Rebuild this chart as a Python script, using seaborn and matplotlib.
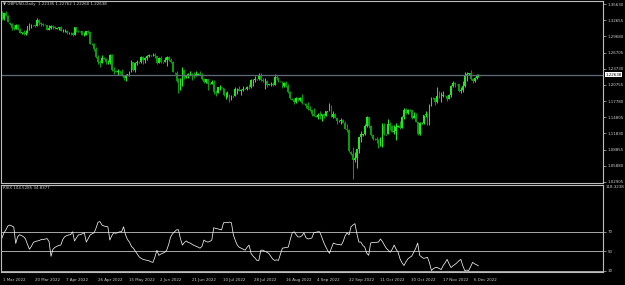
import matplotlib
matplotlib.use("Agg")
import matplotlib.pyplot as plt
import matplotlib.transforms as mtrans
import numpy as np
import pandas as pd
import seaborn as sns

# ---------------- data ----------------
symbol_title = "GBPUSD,Daily  1.22335 1.22762 1.22260 1.22638"
indicator_title = "RSIX 104.5285 34.8377"
first_bar_date = "2022-03-01"
last_bar_date = "2022-12-09"

opens = [
    1.3420, 1.3285, 1.3392, 1.3350,
    1.3210, 1.3200, 1.3115, 1.3112, 1.3185, 1.3093,
    1.3030, 1.3040, 1.3018, 1.3038, 1.3150, 1.3172,
    1.3175, 1.3172, 1.3165, 1.3273, 1.3205, 1.3187,
    1.3180, 1.3175, 1.3090, 1.3113, 1.3155, 1.3138,
    1.3110, 1.3115, 1.3135, 1.3069, 1.3071, 1.3074,
    1.3025, 1.3030, 1.3024, 1.3001, 1.3135, 1.3068,
    1.3060, 1.3058, 1.3000, 1.3001, 1.3067, 1.3044,
    1.2830, 1.2820, 1.2730, 1.2585, 1.2496, 1.2484,
    1.2570, 1.2555, 1.2488, 1.2495, 1.2625, 1.2351,
    1.2330, 1.2320, 1.2332, 1.2318, 1.2242, 1.2198,
    1.2260, 1.2268, 1.2317, 1.2491, 1.2344, 1.2474,
    1.2490, 1.2495, 1.2588, 1.2531, 1.2571, 1.2603,
    1.2620, 1.2625, 1.2629, 1.2599, 1.2487, 1.2575,
    1.2490, 1.2498, 1.2530, 1.2587, 1.2534, 1.2494,
    1.2300, 1.2295, 1.2156, 1.1998, 1.2178, 1.2349,
    1.2215, 1.2230, 1.2267, 1.2276, 1.2265, 1.2262,
    1.2265, 1.2275, 1.2262, 1.2185, 1.2125, 1.2176,
    1.2095, 1.2100, 1.2125, 1.1950, 1.1922, 1.2029,
    1.2030, 1.2020, 1.1890, 1.1891, 1.1895, 1.1826,
    1.1865, 1.1875, 1.1993, 1.1993, 1.1962, 1.1985,
    1.2005, 1.2008, 1.2036, 1.2033, 1.2163, 1.2172,
    1.2175, 1.2185, 1.2245, 1.2164, 1.2143, 1.2153,
    1.2075, 1.2085, 1.2100, 1.2075, 1.2215, 1.2197,
    1.2130, 1.2128, 1.2053, 1.2101, 1.2058, 1.1940,
    1.1820, 1.1805, 1.1765, 1.1830, 1.1802, 1.1833,
    1.1730, 1.1725, 1.1687, 1.1629, 1.1618, 1.1543,
    1.1505, 1.1490, 1.1515, 1.1508, 1.1534, 1.1509,
    1.1580, 1.1595, 1.1686, 1.1488, 1.1546, 1.1466,
    1.1410, 1.1415, 1.1435, 1.1383, 1.1269, 1.1253,
    1.0850, 1.0800, 1.0687, 1.0733, 1.0890, 1.1118,
    1.1160, 1.1165, 1.1324, 1.1476, 1.1323, 1.1153,
    1.1080, 1.1075, 1.1054, 1.0974, 1.1095, 1.1325,
    1.1165, 1.1175, 1.1359, 1.1318, 1.1215, 1.1222,
    1.1310, 1.1320, 1.1288, 1.1476, 1.1617, 1.1565,
    1.1615, 1.1610, 1.1465, 1.1511, 1.1395, 1.1164,
    1.1370, 1.1375, 1.1513, 1.1545, 1.1348, 1.1708,
    1.1840, 1.1835, 1.1764, 1.1863, 1.1862, 1.1868,
    1.1880, 1.1878, 1.1822, 1.1887, 1.2059, 1.2114,
    1.2090, 1.2085, 1.1962, 1.1990, 1.2055, 1.2255,
    1.2270, 1.2285, 1.2184, 1.2155, 1.2208, 1.22335,
]
highs = [
    1.3438, 1.3400, 1.3438, 1.3356,
    1.3225, 1.3220, 1.3180, 1.3200, 1.3190, 1.3130,
    1.3045, 1.3090, 1.3077, 1.3160, 1.3210, 1.3188,
    1.3185, 1.3186, 1.3298, 1.3285, 1.3228, 1.3220,
    1.3190, 1.3180, 1.3170, 1.3175, 1.3180, 1.3166,
    1.3120, 1.3145, 1.3160, 1.3105, 1.3110, 1.3080,
    1.3040, 1.3055, 1.3054, 1.3148, 1.3148, 1.3090,
    1.3070, 1.3060, 1.3055, 1.3070, 1.3090, 1.3055,
    1.2845, 1.2840, 1.2780, 1.2620, 1.2534, 1.2620,
    1.2580, 1.2577, 1.2542, 1.2638, 1.2638, 1.2400,
    1.2345, 1.2360, 1.2340, 1.2375, 1.2260, 1.2280,
    1.2275, 1.2325, 1.2525, 1.2500, 1.2500, 1.2525,
    1.2500, 1.2600, 1.2600, 1.2590, 1.2618, 1.2640,
    1.2630, 1.2665, 1.2666, 1.2615, 1.2590, 1.2600,
    1.2505, 1.2595, 1.2600, 1.2599, 1.2570, 1.2510,
    1.2315, 1.2330, 1.2195, 1.2208, 1.2406, 1.2350,
    1.2240, 1.2290, 1.2325, 1.2300, 1.2318, 1.2325,
    1.2285, 1.2330, 1.2290, 1.2205, 1.2180, 1.2180,
    1.2110, 1.2165, 1.2163, 1.1975, 1.2035, 1.2075,
    1.2040, 1.2025, 1.1936, 1.1967, 1.1905, 1.1885,
    1.1880, 1.2030, 1.2017, 1.2050, 1.2005, 1.2064,
    1.2015, 1.2063, 1.2090, 1.2185, 1.2190, 1.2245,
    1.2190, 1.2293, 1.2285, 1.2210, 1.2205, 1.2160,
    1.2090, 1.2130, 1.2125, 1.2276, 1.2250, 1.2205,
    1.2140, 1.2140, 1.2130, 1.2145, 1.2090, 1.1960,
    1.1830, 1.1840, 1.1850, 1.1845, 1.1850, 1.1900,
    1.1745, 1.1740, 1.1760, 1.1690, 1.1620, 1.1647,
    1.1515, 1.1555, 1.1590, 1.1540, 1.1560, 1.1600,
    1.1600, 1.1738, 1.1700, 1.1590, 1.1565, 1.1475,
    1.1425, 1.1460, 1.1450, 1.1405, 1.1360, 1.1270,
    1.0860, 1.0935, 1.0840, 1.0900, 1.1120, 1.1235,
    1.1175, 1.1355, 1.1495, 1.1480, 1.1340, 1.1170,
    1.1095, 1.1110, 1.1075, 1.1125, 1.1380, 1.1380,
    1.1180, 1.1440, 1.1395, 1.1335, 1.1335, 1.1375,
    1.1330, 1.1410, 1.1495, 1.1645, 1.1643, 1.1630,
    1.1625, 1.1615, 1.1570, 1.1565, 1.1400, 1.1395,
    1.1385, 1.1530, 1.1590, 1.1560, 1.1730, 1.1855,
    1.1850, 1.1840, 1.2030, 1.1955, 1.1940, 1.1955,
    1.1895, 1.1890, 1.1900, 1.2080, 1.2154, 1.2125,
    1.2100, 1.2095, 1.2030, 1.2155, 1.2310, 1.2310,
    1.2290, 1.2345, 1.2210, 1.2220, 1.2275, 1.22762,
]
lows = [
    1.3273, 1.3270, 1.3335, 1.3223,
    1.3185, 1.3084, 1.3090, 1.3100, 1.3080, 1.3026,
    1.3020, 1.3001, 1.3000, 1.3030, 1.3090, 1.3115,
    1.3165, 1.3140, 1.3160, 1.3177, 1.3160, 1.3150,
    1.3168, 1.3084, 1.3080, 1.3100, 1.3111, 1.3100,
    1.3100, 1.3090, 1.3060, 1.3050, 1.3050, 1.3012,
    1.3015, 1.2990, 1.2975, 1.2990, 1.3052, 1.3050,
    1.3050, 1.2995, 1.2975, 1.2990, 1.3030, 1.2823,
    1.2810, 1.2704, 1.2571, 1.2468, 1.2411, 1.2470,
    1.2545, 1.2458, 1.2460, 1.2465, 1.2325, 1.2276,
    1.2310, 1.2260, 1.2280, 1.2235, 1.2165, 1.2155,
    1.2250, 1.2230, 1.2310, 1.2332, 1.2315, 1.2440,
    1.2480, 1.2480, 1.2465, 1.2480, 1.2530, 1.2580,
    1.2610, 1.2610, 1.2570, 1.2460, 1.2480, 1.2472,
    1.2480, 1.2495, 1.2425, 1.2510, 1.2482, 1.2305,
    1.2280, 1.2120, 1.1934, 1.1990, 1.2046, 1.2180,
    1.2205, 1.2200, 1.2250, 1.2160, 1.2200, 1.2230,
    1.2258, 1.2250, 1.2170, 1.2105, 1.2110, 1.1975,
    1.2085, 1.2085, 1.1900, 1.1875, 1.1920, 1.1990,
    1.2015, 1.1874, 1.1807, 1.1845, 1.1760, 1.1800,
    1.1858, 1.1870, 1.1915, 1.1960, 1.1890, 1.1970,
    1.1995, 1.1990, 1.2000, 1.2010, 1.2064, 1.2130,
    1.2168, 1.2170, 1.2150, 1.2130, 1.2005, 1.2030,
    1.2068, 1.2060, 1.2050, 1.2070, 1.2170, 1.2120,
    1.2120, 1.2010, 1.2030, 1.2035, 1.1930, 1.1810,
    1.1795, 1.1717, 1.1750, 1.1780, 1.1780, 1.1720,
    1.1715, 1.1650, 1.1620, 1.1600, 1.1500, 1.1500,
    1.1480, 1.1444, 1.1440, 1.1405, 1.1460, 1.1500,
    1.1575, 1.1590, 1.1480, 1.1475, 1.1460, 1.1351,
    1.1400, 1.1357, 1.1370, 1.1260, 1.1210, 1.0840,
    1.0780, 1.0350, 1.0660, 1.0540, 1.0830, 1.1025,
    1.1140, 1.1145, 1.1305, 1.1275, 1.1140, 1.1055,
    1.1070, 1.1000, 1.0924, 1.0955, 1.0925, 1.1150,
    1.1160, 1.1170, 1.1255, 1.1200, 1.1170, 1.1060,
    1.1300, 1.1258, 1.1275, 1.1445, 1.1540, 1.1535,
    1.1600, 1.1455, 1.1460, 1.1385, 1.1145, 1.1150,
    1.1360, 1.1350, 1.1480, 1.1340, 1.1335, 1.1690,
    1.1825, 1.1710, 1.1750, 1.1830, 1.1765, 1.1850,
    1.1870, 1.1780, 1.1810, 1.1850, 1.2035, 1.2030,
    1.2075, 1.1945, 1.1930, 1.1940, 1.2030, 1.2150,
    1.2260, 1.2160, 1.2110, 1.2120, 1.2180, 1.22260,
]
closes = [
    1.3285, 1.3392, 1.3350, 1.3230,
    1.3200, 1.3115, 1.3112, 1.3185, 1.3093, 1.3037,
    1.3040, 1.3018, 1.3038, 1.3150, 1.3172, 1.3180,
    1.3172, 1.3165, 1.3273, 1.3205, 1.3187, 1.3184,
    1.3175, 1.3090, 1.3113, 1.3155, 1.3138, 1.3113,
    1.3115, 1.3135, 1.3069, 1.3071, 1.3074, 1.3034,
    1.3030, 1.3024, 1.3001, 1.3135, 1.3068, 1.3062,
    1.3058, 1.3000, 1.3001, 1.3067, 1.3044, 1.2835,
    1.2820, 1.2730, 1.2585, 1.2496, 1.2484, 1.2573,
    1.2555, 1.2488, 1.2495, 1.2625, 1.2351, 1.2336,
    1.2320, 1.2332, 1.2318, 1.2242, 1.2198, 1.2263,
    1.2268, 1.2317, 1.2491, 1.2344, 1.2474, 1.2489,
    1.2495, 1.2588, 1.2531, 1.2571, 1.2603, 1.2622,
    1.2625, 1.2629, 1.2599, 1.2487, 1.2575, 1.2488,
    1.2498, 1.2530, 1.2587, 1.2534, 1.2494, 1.2314,
    1.2295, 1.2156, 1.1998, 1.2178, 1.2349, 1.2221,
    1.2230, 1.2267, 1.2276, 1.2265, 1.2262, 1.2267,
    1.2275, 1.2262, 1.2185, 1.2125, 1.2176, 1.2097,
    1.2100, 1.2125, 1.1950, 1.1922, 1.2029, 1.2035,
    1.2020, 1.1890, 1.1891, 1.1895, 1.1826, 1.1867,
    1.1875, 1.1993, 1.1993, 1.1962, 1.1985, 1.2007,
    1.2008, 1.2036, 1.2033, 1.2163, 1.2172, 1.2178,
    1.2185, 1.2245, 1.2164, 1.2143, 1.2153, 1.2078,
    1.2085, 1.2100, 1.2075, 1.2215, 1.2197, 1.2136,
    1.2128, 1.2053, 1.2101, 1.2058, 1.1940, 1.1832,
    1.1805, 1.1765, 1.1830, 1.1802, 1.1833, 1.1736,
    1.1725, 1.1687, 1.1629, 1.1618, 1.1543, 1.1508,
    1.1490, 1.1515, 1.1508, 1.1534, 1.1509, 1.1587,
    1.1595, 1.1686, 1.1488, 1.1546, 1.1466, 1.1418,
    1.1415, 1.1435, 1.1383, 1.1269, 1.1253, 1.0858,
    1.0800, 1.0687, 1.0733, 1.0890, 1.1118, 1.1166,
    1.1165, 1.1324, 1.1476, 1.1323, 1.1153, 1.1088,
    1.1075, 1.1054, 1.0974, 1.1095, 1.1325, 1.1172,
    1.1175, 1.1359, 1.1318, 1.1215, 1.1222, 1.1307,
    1.1320, 1.1288, 1.1476, 1.1617, 1.1565, 1.1620,
    1.1610, 1.1465, 1.1511, 1.1395, 1.1164, 1.1377,
    1.1375, 1.1513, 1.1545, 1.1348, 1.1708, 1.1842,
    1.1835, 1.1764, 1.1863, 1.1862, 1.1868, 1.1887,
    1.1878, 1.1822, 1.1887, 1.2059, 1.2114, 1.2093,
    1.2085, 1.1962, 1.1990, 1.2055, 1.2255, 1.2273,
    1.2285, 1.2184, 1.2155, 1.2208, 1.2233, 1.22638,
]
rsix = [
    63.6, 68.9, 72.0, 76.0, 77.0, 76.0, 75.0, 58.0, 65.0, 67.0,
    66.0, 65.0, 62.6, 57.0, 52.0, 55.0, 59.0, 60.0, 60.5, 61.0,
    62.0, 62.0, 62.5, 63.0, 60.0, 44.7, 52.0, 54.0, 55.0, 56.0,
    56.3, 62.0, 65.0, 66.0, 66.8, 67.0, 70.0, 60.5, 64.0, 66.8,
    67.0, 68.0, 69.0, 59.4, 63.0, 66.8, 68.0, 69.0, 74.0, 80.0,
    80.5, 77.0, 76.0, 75.5, 75.2, 61.5, 66.0, 69.0, 68.5, 69.0,
    70.0, 70.0, 75.2, 67.0, 62.0, 59.4, 55.0, 53.0, 50.0, 47.0,
    44.0, 42.6, 41.5, 41.0, 40.5, 40.0, 39.0, 38.4, 44.0, 51.0,
    45.7, 47.0, 48.0, 48.9, 51.0, 57.0, 64.7, 68.0, 70.0, 72.0,
    72.1, 63.0, 56.3, 59.0, 60.5, 59.0, 58.4, 57.0, 56.0, 55.0,
    54.2, 53.1, 55.0, 61.5, 60.0, 59.4, 60.0, 61.5, 74.2, 73.5,
    73.1, 72.5, 72.1, 79.4, 79.5, 79.6, 80.0, 79.4, 66.8, 61.0,
    56.3, 54.0, 53.1, 52.0, 51.0, 54.0, 56.3, 47.8, 45.0, 43.0,
    40.5, 40.5, 51.0, 51.0, 50.0, 49.0, 47.8, 45.0, 42.0, 40.5,
    41.0, 40.5, 47.0, 53.1, 53.5, 54.0, 54.2, 62.0, 68.9, 70.0,
    67.0, 64.7, 64.7, 66.0, 68.9, 64.0, 62.6, 63.0, 63.6, 68.9,
    69.5, 70.0, 70.0, 65.0, 59.4, 55.0, 51.0, 47.8, 53.0, 58.4,
    57.5, 57.0, 57.0, 56.3, 60.0, 66.0, 68.9, 66.8, 75.2, 77.0,
    78.4, 68.0, 59.4, 59.4, 56.0, 54.2, 48.0, 45.7, 58.4, 59.0,
    59.0, 59.2, 59.4, 62.6, 60.0, 56.3, 53.0, 51.0, 48.9, 52.0,
    56.3, 52.0, 48.9, 42.0, 38.0, 35.2, 39.0, 42.0, 43.6, 45.0,
    48.9, 53.0, 58.4, 45.7, 44.0, 42.6, 43.0, 43.6, 38.0, 30.0,
    32.0, 33.1, 33.1, 32.0, 31.0, 35.2, 38.0, 41.5, 37.0, 33.1,
    35.0, 36.3, 38.0, 40.0, 41.5, 35.0, 30.0, 30.5, 30.0, 34.0,
    38.4, 37.0, 36.0, 34.8377,
]

date_label_days = ["2022-03-01", "2022-03-20", "2022-04-07", "2022-04-26",
                   "2022-05-15", "2022-06-02", "2022-06-21", "2022-07-10",
                   "2022-07-28", "2022-08-16", "2022-09-04", "2022-09-22",
                   "2022-10-11", "2022-10-30", "2022-11-17", "2022-12-06"]
price_ticks = [1.35630, 1.32655, 1.29680, 1.26705, 1.23730, 1.20755,
               1.17780, 1.14805, 1.11830, 1.08855, 1.05880, 1.02905]
rsi_levels = [70, 50, 30]
rsi_top = 118.3238

# ---------------- style ----------------
sns.set_theme(style="dark", rc={
    "axes.facecolor": "black",
    "figure.facecolor": "black",
    "axes.grid": False,
    "axes.edgecolor": "#bdbdbd",
})
plt.rcParams['font.family'] = ['DejaVu Sans']

TXT = "#cfcfcf"
UP = "#22e622"
DOWN = "#0b9a0b"
FS = 2.9

bar_dates = [d for d in pd.date_range(first_bar_date, last_bar_date) if d.dayofweek != 5]
n = len(bar_dates)
assert n == len(opens) == len(highs) == len(lows) == len(closes) == len(rsix)
df = pd.DataFrame({"bar": np.arange(n), "open": opens, "high": highs,
                   "low": lows, "close": closes, "rsix": rsix})

W, H = 625, 285
def box(l, t, r, b):
    return [l / W, 1 - b / H, (r - l) / W, (b - t) / H]

fig = plt.figure(figsize=(W / 100, H / 100), dpi=100)
ax1 = fig.add_axes(box(1, 1, 603, 183))
ax2 = fig.add_axes(box(1, 185, 603, 272))

# ---- candles ----
up = df["close"] >= df["open"]
for mask, col in [(up, UP), (~up, DOWN)]:
    d = df[mask]
    ax1.vlines(d["bar"], d["low"], d["high"], color=col, lw=0.75)
    ax1.bar(d["bar"], (d["close"] - d["open"]).abs(),
            bottom=np.minimum(d["open"], d["close"]),
            width=0.9, color=col, linewidth=0)

last = closes[-1]
ax1.axhline(last, color="#5f6b78", lw=0.9)

ax1.set_xlim(-0.5, 306.5)
px = 0.001839
ax1.set_ylim(price_ticks[0] - 179 * px, price_ticks[0] + 3 * px)
ax1.yaxis.tick_right()
ax1.set_yticks(price_ticks)
ax1.set_yticklabels([f"{v:.5f}" for v in price_ticks])
ax1.tick_params(axis="y", colors="#bdbdbd", labelcolor=TXT, labelsize=FS,
                length=2, width=0.5, pad=1.5)
ax1.tick_params(axis="x", bottom=False, labelbottom=False)
ax1.text(1.004, last, f"{last:.5f}", transform=ax1.get_yaxis_transform(),
         fontsize=FS, color="black", va="center", ha="left",
         bbox=dict(boxstyle="square,pad=0.15", fc="white", ec="white", lw=0))
ax1.text(0.003, 0.993, "\u25bc " + symbol_title, transform=ax1.transAxes,
         fontsize=FS, color=TXT, va="top", ha="left")

# ---- indicator ----
for lv in rsi_levels:
    ax2.axhline(lv, color="#a8a8a8", lw=0.7)
sns.lineplot(data=df, x="bar", y="rsix", ax=ax2, color="#f0f0f0", lw=0.55)
ax2.set_xlim(-0.5, 306.5)
ax2.set_ylim(28.5, rsi_top)
ax2.yaxis.tick_right()
ax2.set_yticks(rsi_levels)
ax2.set_yticklabels([str(v) for v in rsi_levels])
ax2.tick_params(axis="y", colors="#bdbdbd", labelcolor=TXT, labelsize=FS,
                length=2, width=0.5, pad=1.5)
ax2.text(1.004, rsi_top, f"{rsi_top:.4f}", transform=ax2.get_yaxis_transform(),
         fontsize=FS, color=TXT, va="top", ha="left")
ax2.text(0.003, 0.985, indicator_title, transform=ax2.transAxes,
         fontsize=FS, color=TXT, va="top", ha="left")
ax2.set_xlabel("")
ax2.set_ylabel("")

tick_pos = [bar_dates.index(pd.Timestamp(d)) for d in date_label_days]
tick_lab = [f"{pd.Timestamp(d).day} {pd.Timestamp(d):%b %Y}" for d in date_label_days]
ax2.set_xticks(tick_pos)
ax2.set_xticklabels(tick_lab, ha="left")
ax2.tick_params(axis="x", colors="#bdbdbd", labelcolor=TXT, labelsize=FS,
                length=3, width=0.5, pad=1)
for lab in ax2.get_xticklabels():
    lab.set_transform(lab.get_transform() + mtrans.ScaledTranslation(1.5 / 100, 0, fig.dpi_scale_trans))

for ax in (ax1, ax2):
    for s in ax.spines.values():
        s.set_color("#bdbdbd")
        s.set_linewidth(0.8)

fig.savefig("out.png", dpi=100, facecolor="black")
